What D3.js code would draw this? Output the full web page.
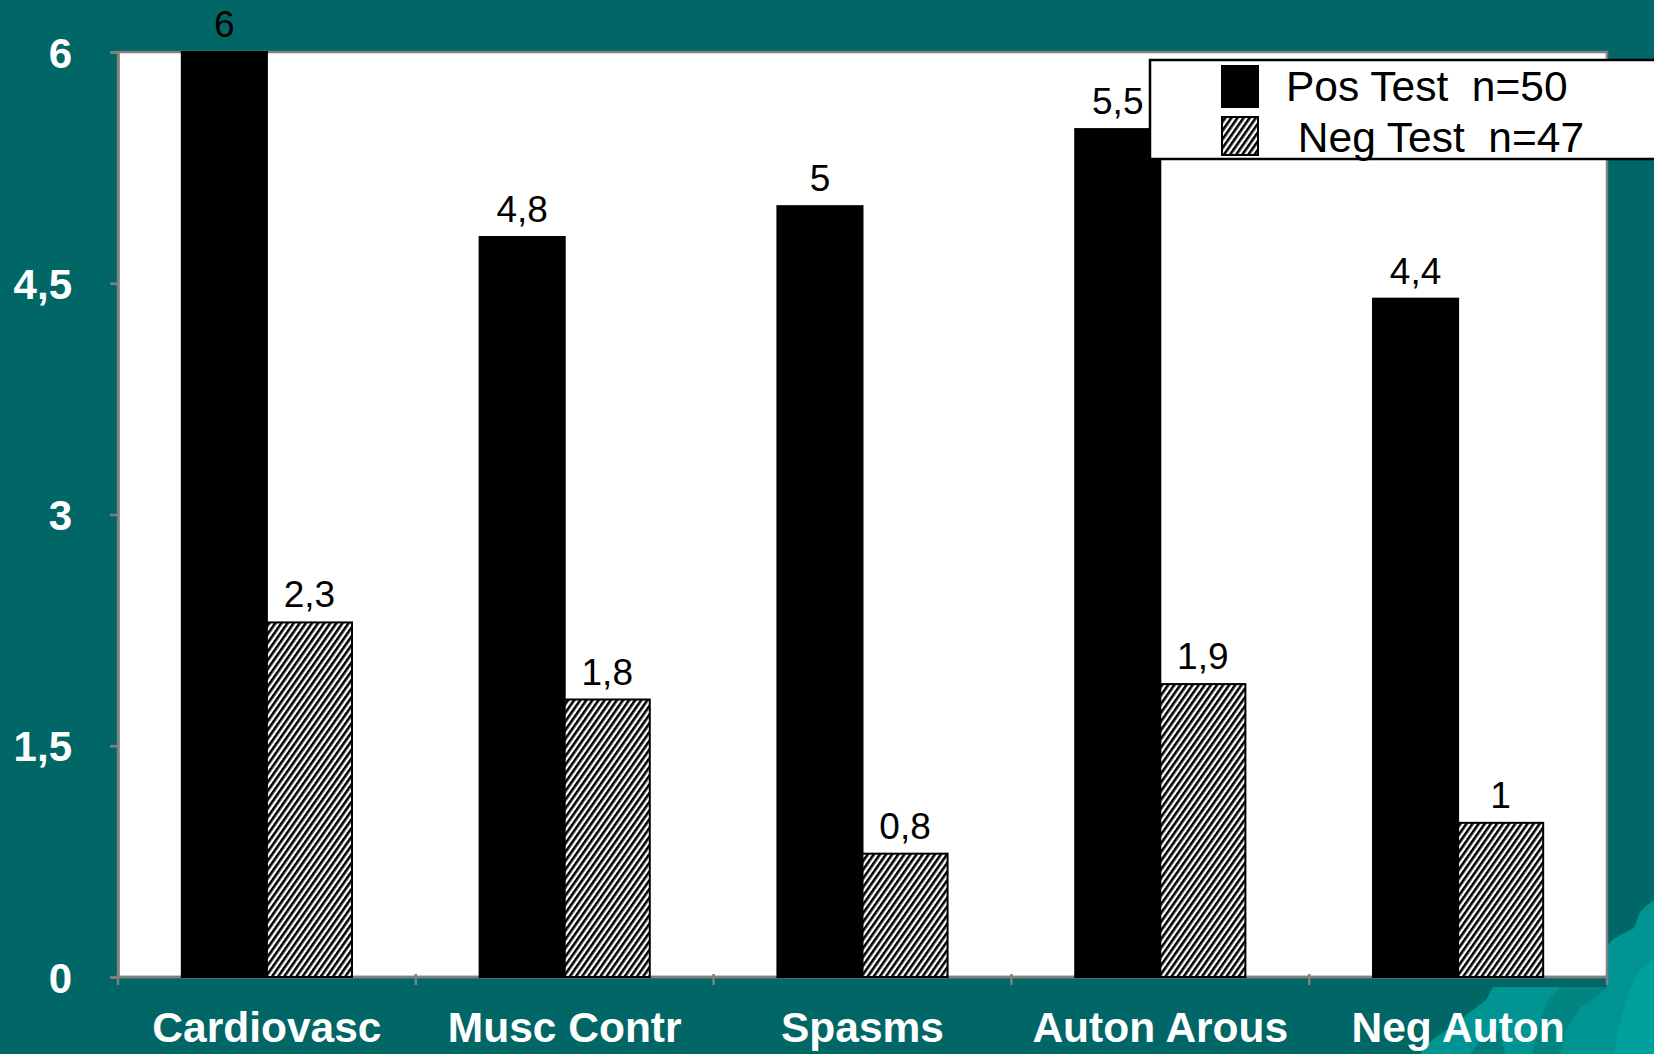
<!DOCTYPE html>
<html>
<head>
<meta charset="utf-8">
<script src="https://cdn.jsdelivr.net/npm/d3@7"></script>
<style>
  html, body { margin: 0; padding: 0; background: #006666; }
  svg { display: block; }
  text { font-family: "Liberation Sans", Arial, sans-serif; }
</style>
</head>
<body>
<svg id="chart" width="1654" height="1054"></svg>
<script>
// Mean scores per symptom group, by test result
const categories = ["Cardiovasc", "Musc Contr", "Spasms", "Auton Arous", "Neg Auton"];
const seriesNames = ["Pos Test  n=50", " Neg Test  n=47"];
const posValues = [6, 4.8, 5, 5.5, 4.4];
const negValues = [2.3, 1.8, 0.8, 1.9, 1];
const yTicks = [0, 1.5, 3, 4.5, 6];

const comma = d3.formatLocale({ decimal: ",", thousands: ".", grouping: [3], currency: ["", ""] });
const fmt = v => comma.format("~g")(v);

const svg = d3.select("#chart");
const W = 1654, H = 1054;
const plot = { left: 118, right: 1607, top: 52, bottom: 977 };

// background
svg.append("rect").attr("width", W).attr("height", H).attr("fill", "#006666");

// decorative lighter waves in the lower right corner
const deco = svg.append("g");
deco.append("path")
  .attr("fill", "#009593")
  .attr("d", "M1654,900 L1646,906 L1640,912 L1634,928 L1622,934 L1612,940 L1607,946 L1607,987 L1493,987 L1486,1000 L1470,1012 L1452,1026 L1432,1040 L1420,1054 L1654,1054 Z");
deco.append("path")
  .attr("fill", "#008583")
  .attr("d", "M1607,987 L1560,987 L1548,1000 L1540,1022 L1532,1054 L1560,1054 L1566,1030 L1580,1008 L1600,994 Z");
deco.append("path")
  .attr("fill", "#00a09e")
  .attr("d", "M1654,960 L1640,970 L1630,990 L1622,1015 L1614,1054 L1654,1054 Z");
deco.append("path")
  .attr("fill", "#007e7c")
  .attr("d", "M1500,1030 L1480,1040 L1470,1054 L1505,1054 Z");

// hatch pattern for the negative-test bars
const defs = svg.append("defs");
const pat = defs.append("pattern")
  .attr("id", "hatch")
  .attr("patternUnits", "userSpaceOnUse")
  .attr("width", 5).attr("height", 5)
  .attr("patternTransform", "rotate(35)");
pat.append("rect").attr("width", 5).attr("height", 5).attr("fill", "#ffffff");
pat.append("rect").attr("width", 2.6).attr("height", 5).attr("fill", "#000000");

// scales
const x0 = d3.scaleBand().domain(categories).range([plot.left, plot.right]).paddingInner(0).paddingOuter(0);
const x1 = d3.scaleBand().domain([0, 1]).range([0, x0.bandwidth()]).paddingInner(0).paddingOuter(0.75);
const y = d3.scaleLinear().domain([0, 6]).range([plot.bottom, plot.top]);

// plot area
svg.append("rect")
  .attr("x", plot.left).attr("y", plot.top)
  .attr("width", plot.right - plot.left).attr("height", plot.bottom - plot.top)
  .attr("fill", "#ffffff").attr("stroke", "#808080").attr("stroke-width", 2.5);

// y axis
const yAxis = svg.append("g")
  .attr("transform", `translate(${plot.left},0)`)
  .call(d3.axisLeft(y).tickValues(yTicks).tickFormat(fmt).tickSize(8).tickPadding(0));
yAxis.select(".domain").attr("stroke", "#808080").attr("stroke-width", 2.5);
yAxis.selectAll(".tick line").attr("stroke", "#808080").attr("stroke-width", 2.5);
yAxis.selectAll(".tick text")
  .attr("x", -46)
  .attr("dy", "0.36em")
  .attr("fill", "#ffffff")
  .attr("font-size", 42)
  .attr("font-weight", "bold")
  .style("font-family", "'Liberation Sans', Arial, sans-serif");

// x axis with ticks at category boundaries
const xAxisG = svg.append("g").attr("transform", `translate(0,${plot.bottom})`);
xAxisG.append("line")
  .attr("x1", plot.left).attr("x2", plot.right)
  .attr("stroke", "#808080").attr("stroke-width", 2.5);
const boundaries = categories.map(c => x0(c)).concat([x0(categories[categories.length - 1]) + x0.bandwidth()]);
xAxisG.selectAll("line.tk").data(boundaries).join("line")
  .attr("class", "tk")
  .attr("x1", d => d).attr("x2", d => d)
  .attr("y1", -3).attr("y2", 8)
  .attr("stroke", "#808080").attr("stroke-width", 2.5);
xAxisG.selectAll("text").data(categories).join("text")
  .attr("x", d => x0(d) + x0.bandwidth() / 2)
  .attr("y", 65)
  .attr("text-anchor", "middle")
  .attr("fill", "#ffffff")
  .attr("font-size", 42.5)
  .attr("font-weight", "bold")
  .text(d => d);

// bars
const rows = categories.map((c, i) => ({ cat: c, vals: [posValues[i], negValues[i]] }));
const groups = svg.append("g").selectAll("g").data(rows).join("g")
  .attr("transform", d => `translate(${x0(d.cat)},0)`);

groups.selectAll("rect").data(d => d.vals.map((v, k) => ({ v, k }))).join("rect")
  .attr("x", d => x1(d.k))
  .attr("y", d => y(d.v))
  .attr("width", x1.bandwidth())
  .attr("height", d => y(0) - y(d.v))
  .attr("fill", d => d.k === 0 ? "#000000" : "url(#hatch)")
  .attr("stroke", "#000000")
  .attr("stroke-width", 2);

// value labels
groups.selectAll("text").data(d => d.vals.map((v, k) => ({ v, k }))).join("text")
  .attr("x", d => x1(d.k) + x1.bandwidth() / 2)
  .attr("y", d => y(d.v) - 15)
  .attr("text-anchor", "middle")
  .attr("font-size", 37)
  .attr("fill", "#000000")
  .text(d => fmt(d.v));

// legend
const leg = svg.append("g");
leg.append("rect")
  .attr("x", 1150).attr("y", 60)
  .attr("width", 540).attr("height", 99)
  .attr("fill", "#ffffff").attr("stroke", "#000000").attr("stroke-width", 2.5);
const legItems = [
  { name: seriesNames[0], fill: "#000000", y: 66, h: 41, tx: 1286, ty: 101 },
  { name: seriesNames[1], fill: "url(#hatch)", y: 117, h: 38, tx: 1286, ty: 152 }
];
legItems.forEach(it => {
  leg.append("rect")
    .attr("x", 1222).attr("y", it.y)
    .attr("width", 36).attr("height", it.h)
    .attr("fill", it.fill).attr("stroke", "#000000").attr("stroke-width", 2);
  leg.append("text")
    .attr("x", it.tx).attr("y", it.ty)
    .attr("font-size", 42.5)
    .attr("fill", "#000000")
    .style("white-space", "pre")
    .attr("xml:space", "preserve")
    .text(it.name);
});
</script>
</body>
</html>
